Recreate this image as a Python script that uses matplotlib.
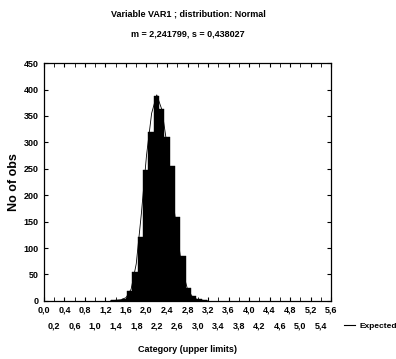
import numpy as np
import matplotlib
matplotlib.use("Agg")
import matplotlib.pyplot as plt
from matplotlib.lines import Line2D

plt.rcParams['font.family'] = ['Liberation Sans Narrow', 'Liberation Sans', 'DejaVu Sans']
plt.rcParams['font.weight'] = 'bold'

# histogram: bin edges start and width, counts
bin_start = 1.308
bin_width = 0.104
counts = [1, 2, 4, 19, 54, 120, 247, 320, 388, 363, 310, 256, 158, 85, 25, 9, 3, 2]

# expected (normal) curve, read as points
exp_x = [1.3, 1.5, 1.6, 1.7, 1.8, 1.9, 2.0, 2.1, 2.2, 2.3, 2.4, 2.5, 2.6, 2.7, 2.8, 2.9, 3.0, 3.2]
exp_y = [0, 2, 6, 22, 70, 165, 275, 355, 390, 362, 295, 205, 125, 58, 22, 7, 2, 0]

top_ticks = [0.0, 0.4, 0.8, 1.2, 1.6, 2.0, 2.4, 2.8, 3.2, 3.6, 4.0, 4.4, 4.8, 5.2, 5.6]
bot_ticks = [0.2, 0.6, 1.0, 1.4, 1.8, 2.2, 2.6, 3.0, 3.4, 3.8, 4.2, 4.6, 5.0, 5.4]
y_ticks = [0, 50, 100, 150, 200, 250, 300, 350, 400, 450]

def fmt(v):
    return ("%.1f" % v).replace(".", ",")

fig = plt.figure(figsize=(3.96, 3.59), dpi=100)
ax = fig.add_axes([0.111, 0.162, 0.725, 0.662])

lefts = bin_start + bin_width * np.arange(len(counts))
ax.bar(lefts, counts, width=bin_width, align='edge', color='black', edgecolor='black', linewidth=0.3)
ax.plot(exp_x, exp_y, color='black', linewidth=0.6)

ax.set_xlim(0, 5.6)
ax.set_ylim(0, 450)

ax.set_xticks(top_ticks)
ax.set_xticklabels([fmt(v) for v in top_ticks])
ax.set_xticks(bot_ticks, minor=True)
ax.set_xticklabels([fmt(v) for v in bot_ticks], minor=True)
ax.set_yticks(y_ticks)
ax.set_yticklabels([str(v) for v in y_ticks])

ax.tick_params(axis='x', which='major', direction='in', length=3, pad=3, labelsize=6.5, top=True)
ax.tick_params(axis='x', which='minor', direction='in', length=3, pad=15, labelsize=6.5, top=True)
ax.tick_params(axis='y', direction='in', length=3, pad=4, labelsize=6.5, right=True)
for s in ax.spines.values():
    s.set_linewidth(0.9)

ax.set_ylabel("No of obs", fontsize=9, fontweight='bold')
ax.yaxis.set_label_coords(-0.085, 0.5)
ax.set_xlabel("Category (upper limits)", fontsize=6.5, fontweight='bold', labelpad=10)

fig.text(0.475, 0.962, "Variable VAR1 ; distribution: Normal", ha='center', va='center', fontsize=6.5, fontweight='bold')
fig.text(0.475, 0.905, "m = 2,241799, s = 0,438027", ha='center', va='center', fontsize=6.5, fontweight='bold')

handle = Line2D([], [], color='black', linewidth=0.8)
fig.legend([handle], ["Expected"], loc='center left', bbox_to_anchor=(0.868, 0.092),
           frameon=False, fontsize=6, handlelength=1.4, handletextpad=0.5, borderpad=0, borderaxespad=0)

fig.savefig("out.png", dpi=100)
